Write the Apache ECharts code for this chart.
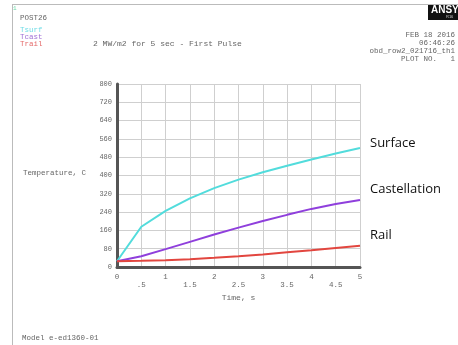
<!DOCTYPE html>
<html>
<head>
<meta charset="utf-8">
<script src="https://cdn.jsdelivr.net/npm/echarts@6/dist/echarts.min.js"></script>
<style>
  html, body { margin: 0; padding: 0; background: #fff; }
  #chart { width: 458px; height: 345px; }
</style>
</head>
<body>
<div id="chart"></div>
<script>
// Time history (POST26): temperatures during a 5 s, 2 MW/m2 pulse
const times = [0, 0.5, 1, 1.5, 2, 2.5, 3, 3.5, 4, 4.5, 5];
const tSurf = [25, 176, 245, 300, 345, 382, 414, 443, 470, 496, 520];
const tCast = [25, 47, 78, 110, 142, 172, 201, 228, 254, 275, 293];
const tRail = [25, 27, 30, 34, 40, 47, 55, 64, 73, 83, 93];
const yTicks = [0, 80, 160, 240, 320, 400, 480, 560, 640, 720, 800];

const pairs = ys => times.map((t, i) => [t, ys[i]]);

const mono = '"Liberation Mono", "DejaVu Sans Mono", monospace';
const gray = '#666';

const chart = echarts.init(document.getElementById('chart'), null, { renderer: 'canvas' });

const txt = (left, top, text, opts) => ({
  type: 'text', left, top,
  style: Object.assign({ text, fill: gray, font: '7.5px ' + mono }, opts || {})
});

chart.setOption({
  animation: false,
  backgroundColor: '#fff',
  grid: { left: 117, right: 98, top: 84, bottom: 78 },
  xAxis: {
    type: 'value', min: 0, max: 5, interval: 0.5,
    axisLine: { show: true, onZero: false, lineStyle: { color: '#555', width: 3 } },
    axisTick: { show: false },
    splitLine: { show: true, lineStyle: { color: '#cfcfcf', width: 1 } },
    axisLabel: {
      color: gray, fontFamily: mono, fontSize: 7.5, margin: 6, lineHeight: 8,
      formatter: v => Number.isInteger(v) ? String(v) + '\n ' : '\n' + (v < 1 ? '.5' : String(v))
    },
    name: 'Time, s', nameLocation: 'middle', nameGap: 22,
    nameTextStyle: { color: gray, fontFamily: mono, fontSize: 8 }
  },
  yAxis: {
    type: 'value', min: yTicks[0], max: yTicks[yTicks.length - 1], interval: 80,
    axisLine: { show: true, lineStyle: { color: '#555', width: 3 } },
    axisTick: { show: false },
    splitLine: { show: true, lineStyle: { color: '#cfcfcf', width: 1 } },
    axisLabel: { color: gray, fontFamily: mono, fontSize: 7, margin: 5 }
  },
  series: [
    { name: 'Tsurf', type: 'line', data: pairs(tSurf), symbol: 'none',
      lineStyle: { color: '#52dcdc', width: 2 } },
    { name: 'Tcast', type: 'line', data: pairs(tCast), symbol: 'none',
      lineStyle: { color: '#8f3fdc', width: 2 } },
    { name: 'Trail', type: 'line', data: pairs(tRail), symbol: 'none',
      lineStyle: { color: '#e2463f', width: 2 } }
  ],
  graphic: [
    // page frame
    { type: 'line', shape: { x1: 12, y1: 4.5, x2: 458, y2: 4.5 }, style: { stroke: '#bbb', lineWidth: 1 } },
    { type: 'line', shape: { x1: 12.5, y1: 4, x2: 12.5, y2: 345 }, style: { stroke: '#bbb', lineWidth: 1 } },
    txt(13, 5, '1', { fill: '#6fd8a8', font: '6px ' + mono }),
    txt(20, 14, 'POST26'),
    txt(20, 26, 'Tsurf', { fill: '#6fdce6' }),
    txt(20, 33, 'Tcast', { fill: '#a070d6' }),
    txt(20, 40, 'Trail', { fill: '#e46a6a' }),
    txt(93, 40, '2 MW/m2 for 5 sec - First Pulse', { font: '8px ' + mono }),
    txt(23, 169, 'Temperature, C'),
    txt(22, 334, 'Model e-ed1360-01'),
    // product badge
    { type: 'rect', shape: { x: 428, y: 5, width: 30, height: 15 }, style: { fill: '#111' } },
    txt(431, 5, 'ANSYS', { fill: '#fff', font: 'bold 10px "Liberation Sans", sans-serif' }),
    txt(446, 15, 'R16', { fill: '#ccc', font: '4px "Liberation Sans", sans-serif' }),
    { type: 'text', right: 3, top: 31, style: { text: 'FEB 18 2016', fill: gray, font: '7.5px ' + mono, align: 'right' } },
    { type: 'text', right: 3, top: 39, style: { text: '06:46:26', fill: gray, font: '7.5px ' + mono, align: 'right' } },
    { type: 'text', right: 3, top: 47, style: { text: 'obd_row2_021716_th1', fill: gray, font: '7.5px ' + mono, align: 'right' } },
    { type: 'text', right: 3, top: 55, style: { text: 'PLOT NO.   1', fill: gray, font: '7.5px ' + mono, align: 'right' } },
    // curve names
    txt(370, 137, 'Surface', { fill: '#111', font: '13px "Open Sans", "Liberation Sans", sans-serif' }),
    txt(370, 183, 'Castellation', { fill: '#111', font: '13px "Open Sans", "Liberation Sans", sans-serif' }),
    txt(370, 229, 'Rail', { fill: '#111', font: '13px "Open Sans", "Liberation Sans", sans-serif' })
  ]
});
</script>
</body>
</html>
